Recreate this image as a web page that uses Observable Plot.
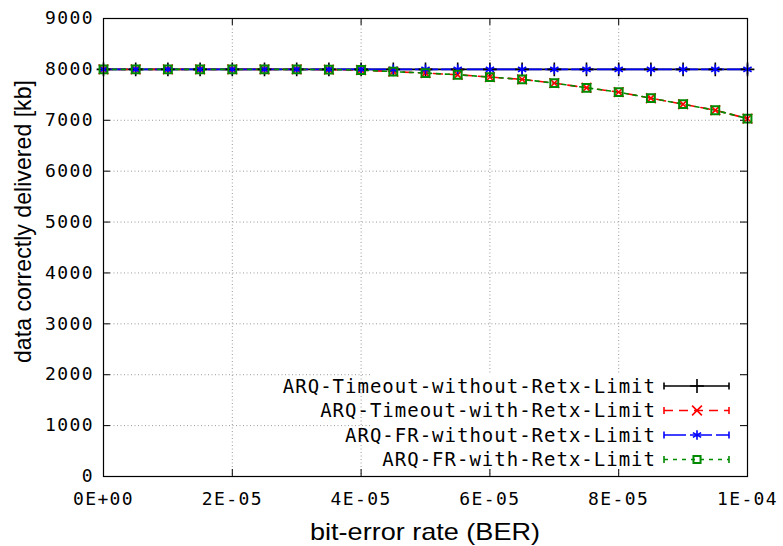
<!DOCTYPE html>
<html><head><meta charset="utf-8">
<script src="https://cdn.jsdelivr.net/npm/d3@7"></script>
<script src="https://cdn.jsdelivr.net/npm/@observablehq/plot@0.6"></script>
<style>
body{margin:0;background:#fff}
#chart{position:relative;width:783px;height:546px}
</style>
</head><body><div id="chart"></div>
<script>
// ---- data ----
const ber = [0, 5e-6, 1e-5, 1.5e-5, 2e-5, 2.5e-5, 3e-5, 3.5e-5, 4e-5, 4.5e-5, 5e-5,
             5.5e-5, 6e-5, 6.5e-5, 7e-5, 7.5e-5, 8e-5, 8.5e-5, 9e-5, 9.5e-5, 1e-4];
const seriesNames = ["ARQ-Timeout-without-Retx-Limit", "ARQ-Timeout-with-Retx-Limit",
                     "ARQ-FR-without-Retx-Limit", "ARQ-FR-with-Retx-Limit"];
const timeoutWithout = [8000, 8000, 8000, 8000, 8000, 8000, 8000, 8000, 8000, 8000, 8000,
                        8000, 8000, 8000, 8000, 8000, 8000, 8000, 8000, 8000, 8000];
const timeoutWith = [8000, 8000, 8000, 8000, 8000, 8000, 8000, 7995, 7988, 7955, 7928,
                     7895, 7849, 7803, 7730, 7638, 7553, 7434, 7316, 7197, 7033];
const frWithout = [8000, 8000, 8000, 8000, 8000, 8000, 8000, 8000, 8000, 8000, 8000,
                   8000, 8000, 8000, 8000, 8000, 8000, 8000, 8000, 8000, 8000];
const frWith = [8000, 8000, 8000, 8000, 8000, 8000, 8000, 7995, 7988, 7955, 7928,
                7895, 7849, 7803, 7730, 7638, 7553, 7434, 7316, 7197, 7033];
const xTicks = [0, 2e-5, 4e-5, 6e-5, 8e-5, 1e-4];
const xTickLabels = ["0E+00", "2E-05", "4E-05", "6E-05", "8E-05", "1E-04"];
const yTicks = [0, 1000, 2000, 3000, 4000, 5000, 6000, 7000, 8000, 9000];
const xLabel = "bit-error rate (BER)";
const yLabel = "data correctly delivered [kb]";

// ---- styling ----
const colors = ["#000000", "#ff0000", "#0000ff", "#008a00"];
const dashes = [null, "9,6", "22,4", "4,5"];
const symbols = ["plus", "times", "asterisk", "square2"];
const allValues = [timeoutWithout, timeoutWith, frWithout, frWith];

const W = 783, H = 546;
const mL = 103, mR = 36, mT = 18, mB = 70;
const pw = W - mL - mR, ph = H - mT - mB;
const mono = "'DejaVu Sans Mono', monospace";
const sans = "'Liberation Sans', Arial, sans-serif";

const series = allValues.map((vals, k) => ber.map((b, i) => ({x: b, y: vals[i], s: seriesNames[k]})));

const marks = [
  Plot.ruleX(xTicks.slice(1, -1), {stroke: "#9a9a9a", strokeDasharray: "1,2.5", strokeWidth: 1}),
  Plot.ruleY(yTicks.slice(1, -1), {stroke: "#9a9a9a", strokeDasharray: "1,2.5", strokeWidth: 1}),
  Plot.ruleX(xTicks, {stroke: "#000", insetTop: ph - 7}),
  Plot.ruleX(xTicks, {stroke: "#000", insetBottom: ph - 7}),
  Plot.ruleY(yTicks, {stroke: "#000", insetLeft: pw - 7}),
  Plot.ruleY(yTicks, {stroke: "#000", insetRight: pw - 7}),
];
series.forEach((d, k) => {
  marks.push(Plot.line(d, {x: "x", y: "y", stroke: colors[k], strokeWidth: 1.6,
    strokeDasharray: dashes[k] || undefined}));
});
series.forEach((d, k) => {
  marks.push(Plot.dot(d, {x: "x", y: "y", stroke: colors[k], symbol: symbols[k],
    r: k === 3 ? 5 : 4.5, strokeWidth: k === 3 ? 2 : 1.6, fill: "none"}));
});
marks.push(Plot.frame({stroke: "#000", strokeWidth: 1.2}));
marks.push(Plot.axisX(xTicks, {tickSize: 0, tickPadding: 16, fontSize: 18, fontFamily: mono,
  tickFormat: (d) => xTickLabels[xTicks.indexOf(d)], label: null}));
marks.push(Plot.axisY(yTicks, {tickSize: 0, tickPadding: 9.5, fontSize: 18, fontFamily: mono,
  tickFormat: (d) => String(d), label: null}));

const chart = Plot.plot({
  width: W, height: H,
  marginLeft: mL, marginRight: mR, marginTop: mT, marginBottom: mB,
  x: {domain: [0, 1e-4]},
  y: {domain: [0, 9000]},
  style: {background: "#fff", color: "#000", fontFamily: mono, fontSize: "18px", overflow: "visible"},
  marks
});
document.getElementById("chart").appendChild(chart);

// ---- axis titles and legend (added to the Plot SVG) ----
const svg = d3.select(chart);
svg.selectAll("g[aria-label='x-axis tick label'] text, g[aria-label='y-axis tick label'] text")
  .attr("letter-spacing", "1.4px");

svg.append("text").text(xLabel)
  .attr("x", 425).attr("y", 540)
  .attr("text-anchor", "middle")
  .attr("font-family", sans).attr("font-size", 24)
  .attr("textLength", 230).attr("lengthAdjust", "spacingAndGlyphs");
svg.append("text").text(yLabel)
  .attr("transform", "translate(31,221.5) rotate(-90)")
  .attr("text-anchor", "middle")
  .attr("font-family", sans).attr("font-size", 24)
  .attr("textLength", 283).attr("lengthAdjust", "spacingAndGlyphs");

const lg = svg.append("g");
lg.append("rect").attr("x", 370).attr("y", 373.5).attr("width", 370).attr("height", 95.5).attr("fill", "#fff");
const rowY = [386, 410.5, 435, 459.5];
seriesNames.forEach((name, k) => {
  const y = rowY[k];
  lg.append("text").text(name)
    .attr("x", 656).attr("y", y).attr("dy", "0.36em")
    .attr("text-anchor", "end")
    .attr("font-family", mono).attr("font-size", 19)
    .attr("letter-spacing", "1px");
  lg.append("line").attr("x1", 664).attr("x2", 729).attr("y1", y).attr("y2", y)
    .attr("stroke", colors[k]).attr("stroke-width", 1.6)
    .attr("stroke-dasharray", dashes[k]);
  [664, 729].forEach(x => lg.append("line").attr("x1", x).attr("x2", x)
    .attr("y1", y - 3.5).attr("y2", y + 3.5).attr("stroke", colors[k]).attr("stroke-width", 1.6));
  lg.append("path")
    .attr("d", d3.symbol(k === 0 ? d3.symbolPlus : k === 1 ? d3.symbolTimes : k === 2 ? d3.symbolAsterisk : d3.symbolSquare2, 64)())
    .attr("transform", `translate(697,${y})`)
    .attr("fill", "none").attr("stroke", colors[k]).attr("stroke-width", k === 3 ? 2 : 1.6);
});
</script>
</body></html>
